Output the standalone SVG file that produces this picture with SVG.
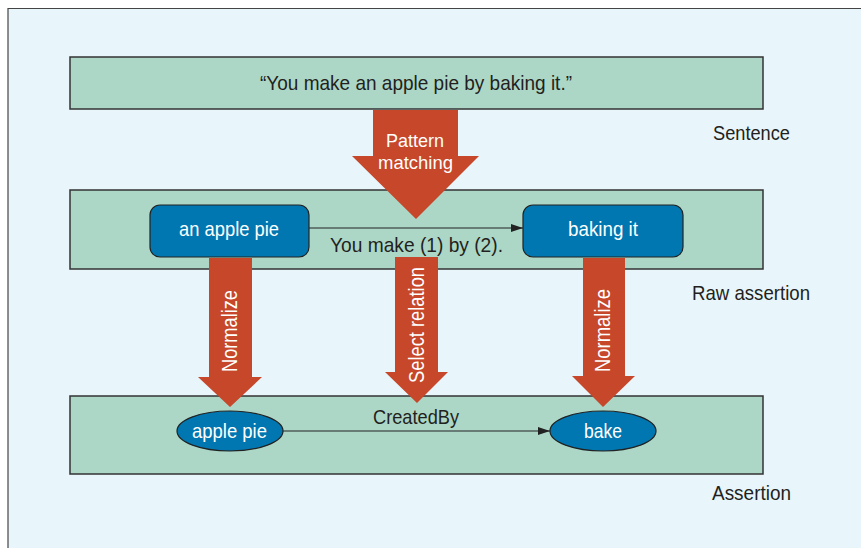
<svg xmlns="http://www.w3.org/2000/svg" width="861" height="548" viewBox="0 0 861 548">
<defs>
<style>
.t{font-family:"Liberation Sans",Arial,sans-serif;font-size:21px;fill:#231f20}
.w{font-family:"Liberation Sans",Arial,sans-serif;font-size:21px;fill:#ffffff}
.p{font-family:"Liberation Sans",Arial,sans-serif;font-size:19px;fill:#ffffff}
.v{font-family:"Liberation Sans",Arial,sans-serif;font-size:22px;fill:#ffffff}
.band{fill:#acd7c7;stroke:#333;stroke-width:1.5}
.node{fill:#0077b0;stroke:#222;stroke-width:1.2}
.big{fill:#c6472a}
.edge{stroke:#222;stroke-width:1.2;fill:none}
</style>
<marker id="ah" markerWidth="12" markerHeight="8" refX="12" refY="4" orient="auto" markerUnits="userSpaceOnUse">
<path d="M0,0 L12,4 L0,8 z" fill="#222"/>
</marker>
</defs>
<rect x="0" y="0" width="861" height="548" fill="#ffffff"/>
<rect x="8" y="8" width="853" height="540" fill="#e8f5fb"/>
<path d="M8,548 V8.5 H861" fill="none" stroke="#444" stroke-width="1.2"/>

<g id="layer-sentence">
<rect class="band" x="70" y="57" width="693" height="52"/>
<text class="t" x="260" y="90" textLength="312" lengthAdjust="spacingAndGlyphs">“You make an apple pie by baking it.”</text>
<text class="t" x="713" y="140" textLength="77" lengthAdjust="spacingAndGlyphs">Sentence</text>
</g>
<g id="layer-raw">
<rect class="band" x="70" y="190" width="693" height="79"/>
<text class="t" x="692" y="300" textLength="118" lengthAdjust="spacingAndGlyphs">Raw assertion</text>
</g>
<g id="layer-assertion">
<rect class="band" x="70" y="396" width="693" height="78"/>
<text class="t" x="712" y="500" textLength="79" lengthAdjust="spacingAndGlyphs">Assertion</text>
</g>

<g id="arrow-pattern">
<path class="big" d="M373,110 H458 V156 H479 L416,219 L352,156 H373 z"/>
<text class="p" x="386" y="147" textLength="58" lengthAdjust="spacingAndGlyphs">Pattern</text>
<text class="p" x="378" y="169" textLength="75" lengthAdjust="spacingAndGlyphs">matching</text>
</g>

<g id="connectors">
<line class="edge" x1="309" y1="228" x2="523" y2="228" marker-end="url(#ah)"/>
<text class="t" x="330" y="252" textLength="173" lengthAdjust="spacingAndGlyphs">You make (1) by (2).</text>
<line class="edge" x1="283" y1="431" x2="550" y2="431" marker-end="url(#ah)"/>
<text class="t" x="373" y="424" textLength="86" lengthAdjust="spacingAndGlyphs">CreatedBy</text>
</g>

<g id="node-an-apple-pie">
<rect class="node" x="150" y="205" width="159" height="52" rx="10"/>
<text class="w" x="179" y="236" textLength="100" lengthAdjust="spacingAndGlyphs">an apple pie</text>
</g>
<g id="node-baking-it">
<rect class="node" x="523" y="205" width="160" height="52" rx="10"/>
<text class="w" x="568" y="236" textLength="70" lengthAdjust="spacingAndGlyphs">baking it</text>
</g>

<g id="arrow-normalize-left">
<path class="big" d="M209,258 H252 V377 H262 L230,407 L198,377 H209 z"/>
<text class="v" transform="translate(237,372) rotate(-90)" textLength="82" lengthAdjust="spacingAndGlyphs">Normalize</text>
</g>
<g id="arrow-select-relation">
<path class="big" d="M395,257 H438 V372 H448 L417,403 L385,372 H395 z"/>
<text class="v" transform="translate(424,383) rotate(-90)" textLength="116" lengthAdjust="spacingAndGlyphs">Select relation</text>
</g>
<g id="arrow-normalize-right">
<path class="big" d="M583,258 H625 V376 H635 L603,407 L572,376 H583 z"/>
<text class="v" transform="translate(610,372) rotate(-90)" textLength="83" lengthAdjust="spacingAndGlyphs">Normalize</text>
</g>

<g id="node-apple-pie">
<ellipse class="node" cx="230" cy="431" rx="53" ry="20"/>
<text class="w" x="192" y="438" textLength="75" lengthAdjust="spacingAndGlyphs">apple pie</text>
</g>
<g id="node-bake">
<ellipse class="node" cx="603" cy="431" rx="53" ry="20"/>
<text class="w" x="584" y="438" textLength="38" lengthAdjust="spacingAndGlyphs">bake</text>
</g>
</svg>
